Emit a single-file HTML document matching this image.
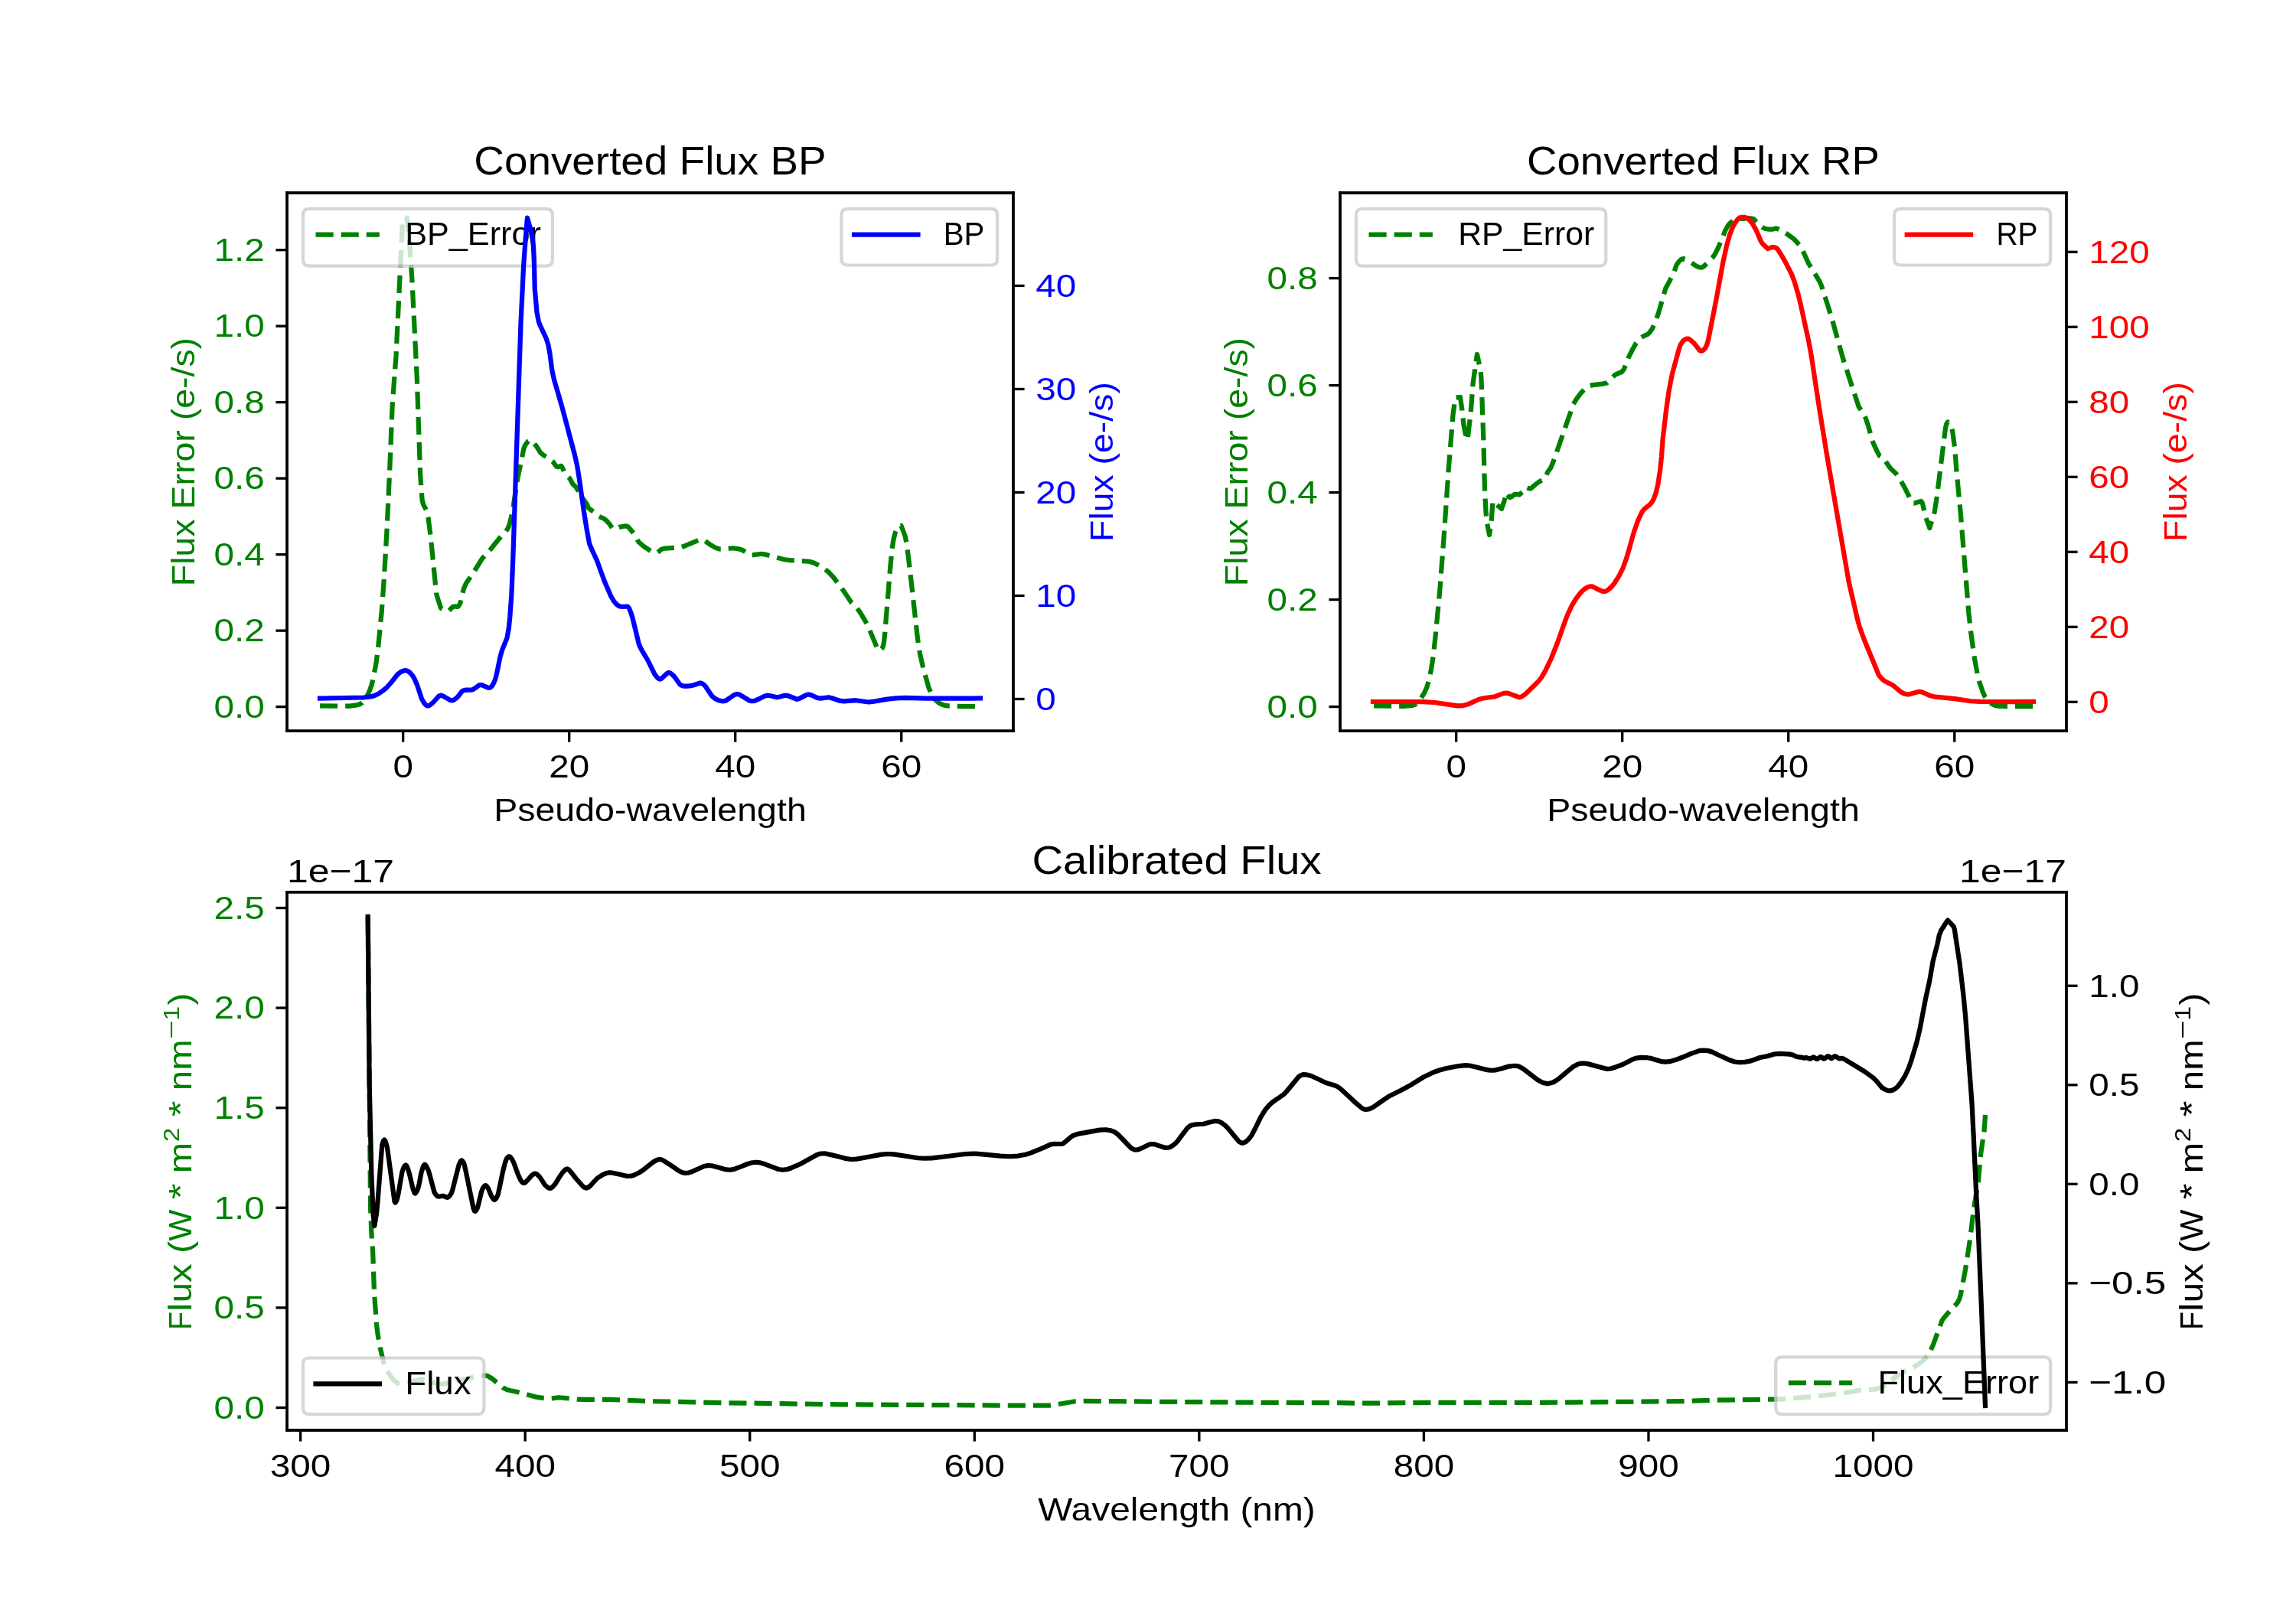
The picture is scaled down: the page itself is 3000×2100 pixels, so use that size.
<!DOCTYPE html>
<html><head><meta charset="utf-8"><style>html,body{margin:0;padding:0;background:#fff;width:3000px;height:2100px;overflow:hidden}svg{display:block;will-change:transform}</style></head><body>
<svg width="3000" height="2100" viewBox="0 0 720 504" version="1.1">
 <defs>
  <style type="text/css">*{stroke-linejoin: round; stroke-linecap: butt}</style>
 </defs>
 <g id="figure_1">
  <g id="patch_1">
   <path d="M 0 504 
L 720 504 
L 720 0 
L 0 0 
z
" style="fill: #ffffff"/>
  </g>
  <g id="axes_1">
   <g id="patch_2">
    <path d="M 90 229.210435 
L 317.755102 229.210435 
L 317.755102 60.48 
L 90 60.48 
z
" style="fill: #ffffff"/>
   </g>
   <g id="matplotlib.axis_1">
    <g id="xtick_1">
     <g id="line2d_1">
      <defs>
       <path id="m1504cfccaf" d="M 0 0 
L 0 3.5 
" style="stroke: #000000; stroke-width: 0.8"/>
      </defs>
      <g>
       <use href="#m1504cfccaf" x="126.396541" y="229.210435" style="stroke: #000000; stroke-width: 0.8"/>
      </g>
     </g>
     <g id="text_1">
      <text textLength="6.362" lengthAdjust="spacingAndGlyphs" style="font-size: 10.300px; font-family: 'Liberation Sans', sans-serif; text-anchor: middle" x="126.396541" y="243.808872" transform="rotate(-0 126.396541 243.808872)">0</text>
     </g>
    </g>
    <g id="xtick_2">
     <g id="line2d_2">
      <g>
       <use href="#m1504cfccaf" x="178.484615" y="229.210435" style="stroke: #000000; stroke-width: 0.8"/>
      </g>
     </g>
     <g id="text_2">
      <text textLength="12.725" lengthAdjust="spacingAndGlyphs" style="font-size: 10.300px; font-family: 'Liberation Sans', sans-serif; text-anchor: middle" x="178.484615" y="243.808872" transform="rotate(-0 178.484615 243.808872)">20</text>
     </g>
    </g>
    <g id="xtick_3">
     <g id="line2d_3">
      <g>
       <use href="#m1504cfccaf" x="230.572689" y="229.210435" style="stroke: #000000; stroke-width: 0.8"/>
      </g>
     </g>
     <g id="text_3">
      <text textLength="12.725" lengthAdjust="spacingAndGlyphs" style="font-size: 10.300px; font-family: 'Liberation Sans', sans-serif; text-anchor: middle" x="230.572689" y="243.808872" transform="rotate(-0 230.572689 243.808872)">40</text>
     </g>
    </g>
    <g id="xtick_4">
     <g id="line2d_4">
      <g>
       <use href="#m1504cfccaf" x="282.660762" y="229.210435" style="stroke: #000000; stroke-width: 0.8"/>
      </g>
     </g>
     <g id="text_4">
      <text textLength="12.725" lengthAdjust="spacingAndGlyphs" style="font-size: 10.300px; font-family: 'Liberation Sans', sans-serif; text-anchor: middle" x="282.660762" y="243.808872" transform="rotate(-0 282.660762 243.808872)">60</text>
     </g>
    </g>
    <g id="text_5">
     <text textLength="98.057" lengthAdjust="spacingAndGlyphs" style="font-size: 10.300px; font-family: 'Liberation Sans', sans-serif; text-anchor: middle" x="203.877551" y="257.486997" transform="rotate(-0 203.877551 257.486997)">Pseudo-wavelength</text>
    </g>
   </g>
   <g id="matplotlib.axis_2">
    <g id="ytick_1">
     <g id="line2d_5">
      <defs>
       <path id="m5d545ce8f8" d="M 0 0 
L -3.5 0 
" style="stroke: #000000; stroke-width: 0.8"/>
      </defs>
      <g>
       <use href="#m5d545ce8f8" x="90" y="221.665141" style="stroke: #000000; stroke-width: 0.8"/>
      </g>
     </g>
     <g id="text_6">
      <text textLength="15.903" lengthAdjust="spacingAndGlyphs" style="font-size: 10.300px; font-family: 'Liberation Sans', sans-serif; text-anchor: end; fill: #008000" x="83" y="225.1044" transform="rotate(-0 83 225.1044)">0.0</text>
     </g>
    </g>
    <g id="ytick_2">
     <g id="line2d_6">
      <g>
       <use href="#m5d545ce8f8" x="90" y="197.78763" style="stroke: #000000; stroke-width: 0.8"/>
      </g>
     </g>
     <g id="text_7">
      <text textLength="15.903" lengthAdjust="spacingAndGlyphs" style="font-size: 10.300px; font-family: 'Liberation Sans', sans-serif; text-anchor: end; fill: #008000" x="83" y="201.2268" transform="rotate(-0 83 201.2268)">0.2</text>
     </g>
    </g>
    <g id="ytick_3">
     <g id="line2d_7">
      <g>
       <use href="#m5d545ce8f8" x="90" y="173.910118" style="stroke: #000000; stroke-width: 0.8"/>
      </g>
     </g>
     <g id="text_8">
      <text textLength="15.903" lengthAdjust="spacingAndGlyphs" style="font-size: 10.300px; font-family: 'Liberation Sans', sans-serif; text-anchor: end; fill: #008000" x="83" y="177.3493" transform="rotate(-0 83 177.3493)">0.4</text>
     </g>
    </g>
    <g id="ytick_4">
     <g id="line2d_8">
      <g>
       <use href="#m5d545ce8f8" x="90" y="150.032607" style="stroke: #000000; stroke-width: 0.8"/>
      </g>
     </g>
     <g id="text_9">
      <text textLength="15.903" lengthAdjust="spacingAndGlyphs" style="font-size: 10.300px; font-family: 'Liberation Sans', sans-serif; text-anchor: end; fill: #008000" x="83" y="153.4718" transform="rotate(-0 83 153.4718)">0.6</text>
     </g>
    </g>
    <g id="ytick_5">
     <g id="line2d_9">
      <g>
       <use href="#m5d545ce8f8" x="90" y="126.155095" style="stroke: #000000; stroke-width: 0.8"/>
      </g>
     </g>
     <g id="text_10">
      <text textLength="15.903" lengthAdjust="spacingAndGlyphs" style="font-size: 10.300px; font-family: 'Liberation Sans', sans-serif; text-anchor: end; fill: #008000" x="83" y="129.5943" transform="rotate(-0 83 129.5943)">0.8</text>
     </g>
    </g>
    <g id="ytick_6">
     <g id="line2d_10">
      <g>
       <use href="#m5d545ce8f8" x="90" y="102.277584" style="stroke: #000000; stroke-width: 0.8"/>
      </g>
     </g>
     <g id="text_11">
      <text textLength="15.903" lengthAdjust="spacingAndGlyphs" style="font-size: 10.300px; font-family: 'Liberation Sans', sans-serif; text-anchor: end; fill: #008000" x="83" y="105.7168" transform="rotate(-0 83 105.7168)">1.0</text>
     </g>
    </g>
    <g id="ytick_7">
     <g id="line2d_11">
      <g>
       <use href="#m5d545ce8f8" x="90" y="78.400072" style="stroke: #000000; stroke-width: 0.8"/>
      </g>
     </g>
     <g id="text_12">
      <text textLength="15.903" lengthAdjust="spacingAndGlyphs" style="font-size: 10.300px; font-family: 'Liberation Sans', sans-serif; text-anchor: end; fill: #008000" x="83" y="81.8393" transform="rotate(-0 83 81.8393)">1.2</text>
     </g>
    </g>
    <g id="text_13">
     <text textLength="78.057" lengthAdjust="spacingAndGlyphs" style="font-size: 10.300px; font-family: 'Liberation Sans', sans-serif; text-anchor: middle; fill: #008000" x="61.017187" y="144.845217" transform="rotate(-90 61.017187 144.845217)">Flux Error (e-/s)</text>
    </g>
   </g>
   <g id="line2d_12">
    <path d="M 100.32 221.4 
L 109.667248 221.415631 
L 111.953451 221.118138 
L 112.70401 220.903821 
L 113.4 220.5 
L 114.294738 219.574164 
L 115.095919 218.323424 
L 115.8 216.9 
L 116.523684 214.892465 
L 117.087333 212.600325 
L 117.961875 207.869674 
L 118.591102 203.027161 
L 119.693373 191.722705 
L 120.452047 181.236938 
L 121.340134 166.093824 
L 122.261646 146.142437 
L 123.024 127.368 
L 123.610684 119.410787 
L 124.2 111.6 
L 124.69281 101.453178 
L 125.47003 85.300545 
L 126.122322 71.937554 
L 126.144 71.1 
L 126.9 71.4 
L 127.082939 71.16773 
L 127.339494 70.158428 
L 127.656 68.304 
L 128.471288 77.076267 
L 129.232592 87.993416 
L 130.738219 118.200274 
L 131.80436 148.978891 
L 132.379062 156.758363 
L 132.770995 158.274205 
L 133.8 160.2 
L 134.287883 162.39206 
L 134.824412 166.547414 
L 135.645321 174.094436 
L 136.8 186 
L 137.232675 187.648043 
L 138.3 190.8 
L 140.068549 191.686933 
L 140.4 191.7 
L 140.718061 191.57114 
L 141.315355 190.997504 
L 141.899 190.381641 
L 142.450767 190.160837 
L 143.468598 190.30055 
L 143.7 190.2 
L 144.126606 189.594849 
L 144.474808 188.582637 
L 145.4072 184.672044 
L 146.159773 182.923848 
L 147.360394 181.188366 
L 148.681781 179.226483 
L 151.2 175.2 
L 152.549149 173.664618 
L 153.9 172.2 
L 157.435215 167.801534 
L 158.660361 166.672748 
L 159.34439 165.539771 
L 159.869551 164.039087 
L 160.5 161.4 
L 161.040527 158.418456 
L 162.263233 150.381252 
L 164.256 140.664 
L 164.745903 139.526421 
L 165.666449 138.285406 
L 166.128 138.048 
L 166.419965 138.113047 
L 167.065934 138.595948 
L 168.265248 139.986191 
L 169.464 141.936 
L 170.18542 142.546988 
L 173.448 144.864 
L 174.074606 145.759326 
L 174.472699 146.285468 
L 174.894906 146.433848 
L 175.944 146.112 
L 176.189938 146.333907 
L 176.59348 147.193024 
L 177.216 148.608 
L 177.954629 149.355099 
L 178.68 150.072 
L 179.214935 151.059523 
L 179.712 151.968 
L 180.266108 152.419032 
L 180.552 152.688 
L 181.019134 153.433752 
L 182.319142 155.739537 
L 184.018918 158.087295 
L 184.536 159.288 
L 185.150783 159.806252 
L 186.854218 160.965436 
L 187.872 162 
L 188.601462 162.320217 
L 189.336 162.624 
L 190.166706 163.272001 
L 190.882472 164.043349 
L 192.144971 165.770227 
L 192.48 165.96 
L 193.004557 165.893763 
L 194.136 165.336 
L 195.928584 164.992969 
L 196.656 165.024 
L 196.989047 165.226803 
L 198.861423 167.44577 
L 199.367755 168.225633 
L 200.098795 169.731266 
L 200.4 170.1 
L 201.997118 171.470369 
L 204.061323 172.810478 
L 205.020891 173.244082 
L 205.8 173.4 
L 206.142403 173.326346 
L 206.678599 172.904964 
L 207.233818 172.390281 
L 207.6 172.2 
L 208.381932 172.016492 
L 210.358923 171.887913 
L 212.550205 171.770078 
L 213.6 171.6 
L 214.742471 171.237368 
L 219.348353 169.281496 
L 220.2 169.2 
L 220.872218 169.462365 
L 222.517756 170.713057 
L 224.313991 171.746336 
L 225.6 172.2 
L 226.98842 172.220243 
L 229.8 171.9 
L 231.365523 172.089639 
L 232.8 172.5 
L 233.607905 172.994372 
L 234.76277 173.835472 
L 235.2 174 
L 236.331939 174.013053 
L 238.8 173.7 
L 240.003629 173.910212 
L 246 175.5 
L 247.779575 175.687833 
L 253.8 176.1 
L 255.350661 176.598521 
L 256.8 177.3 
L 258.305721 178.206462 
L 259.8 179.4 
L 261.219914 180.911348 
L 263.351467 183.627432 
L 265.07283 186.090476 
L 267 189 
L 267.902503 189.894276 
L 268.8 190.8 
L 269.810874 192.217261 
L 271.356382 194.77833 
L 272.462783 197.007903 
L 275.4 204 
L 276.423802 203.59023 
L 276.6 203.4 
L 276.953506 202.599094 
L 277.202185 201.421428 
L 277.515335 198.347182 
L 279.178329 178.027992 
L 279.716516 172.295344 
L 280.2 169.2 
L 280.716855 167.083052 
L 281.139896 166.002218 
L 281.579391 165.415883 
L 282.18681 165.078965 
L 282.6 164.88 
L 283.8 168 
L 284.25618 170.224689 
L 285 175.8 
L 285.898374 183.684512 
L 287.758927 200.33629 
L 288.526908 205.222039 
L 289.52437 209.544978 
L 291.255638 215.735497 
L 292.137317 217.745985 
L 293.042582 219.195873 
L 293.746365 219.92772 
L 294.495291 220.485984 
L 295.337292 220.923374 
L 296.405283 221.264018 
L 297.737391 221.429584 
L 302.322499 221.567119 
L 307.44 221.52 
L 307.44 221.52 
" clip-path="url(#ped18cb847b)" style="fill: none; stroke-dasharray: 5.55,2.4; stroke-dashoffset: 0; stroke: #008000; stroke-width: 1.5"/>
   </g>
   <g id="patch_3">
    <path d="M 90 229.210435 
L 90 60.48 
" style="fill: none; stroke: #000000; stroke-width: 0.8; stroke-linejoin: miter; stroke-linecap: square"/>
   </g>
   <g id="patch_4">
    <path d="M 317.755102 229.210435 
L 317.755102 60.48 
" style="fill: none; stroke: #000000; stroke-width: 0.8; stroke-linejoin: miter; stroke-linecap: square"/>
   </g>
   <g id="patch_5">
    <path d="M 90 229.210435 
L 317.755102 229.210435 
" style="fill: none; stroke: #000000; stroke-width: 0.8; stroke-linejoin: miter; stroke-linecap: square"/>
   </g>
   <g id="patch_6">
    <path d="M 90 60.48 
L 317.755102 60.48 
" style="fill: none; stroke: #000000; stroke-width: 0.8; stroke-linejoin: miter; stroke-linecap: square"/>
   </g>
   <g id="text_14">
    <text textLength="110.490" lengthAdjust="spacingAndGlyphs" style="font-size: 12.360px; font-family: 'Liberation Sans', sans-serif; text-anchor: middle" x="203.877551" y="54.7200" transform="rotate(-0 203.877551 54.7200)">Converted Flux BP</text>
   </g>
   <g id="legend_1">
    <g id="patch_7">
     <path d="M 97 83.43625 
L 171.260938 83.43625 
Q 173.260938 83.43625 173.260938 81.43625 
L 173.260938 67.48 
Q 173.260938 65.48 171.260938 65.48 
L 97 65.48 
Q 95 65.48 95 67.48 
L 95 81.43625 
Q 95 83.43625 97 83.43625 
z
" style="fill: #ffffff; opacity: 0.8; stroke: #cccccc; stroke-linejoin: miter"/>
    </g>
    <g id="line2d_13">
     <path d="M 99 73.578438 
L 109 73.578438 
L 119 73.578438 
" style="fill: none; stroke-dasharray: 5.55,2.4; stroke-dashoffset: 0; stroke: #008000; stroke-width: 1.5"/>
    </g>
    <g id="text_15">
     <text textLength="42.661" lengthAdjust="spacingAndGlyphs" style="font-size: 10.300px; font-family: 'Liberation Sans', sans-serif; text-anchor: start" x="127" y="76.8384" transform="rotate(-0 127 76.8384)">BP_Error</text>
    </g>
   </g>
  </g>
  <g id="axes_2">
   <g id="patch_8">
    <path d="M 420.244898 229.210435 
L 648 229.210435 
L 648 60.48 
L 420.244898 60.48 
z
" style="fill: #ffffff"/>
   </g>
   <g id="matplotlib.axis_3">
    <g id="xtick_5">
     <g id="line2d_14">
      <g>
       <use href="#m1504cfccaf" x="456.641439" y="229.210435" style="stroke: #000000; stroke-width: 0.8"/>
      </g>
     </g>
     <g id="text_16">
      <text textLength="6.362" lengthAdjust="spacingAndGlyphs" style="font-size: 10.300px; font-family: 'Liberation Sans', sans-serif; text-anchor: middle" x="456.641439" y="243.808872" transform="rotate(-0 456.641439 243.808872)">0</text>
     </g>
    </g>
    <g id="xtick_6">
     <g id="line2d_15">
      <g>
       <use href="#m1504cfccaf" x="508.729513" y="229.210435" style="stroke: #000000; stroke-width: 0.8"/>
      </g>
     </g>
     <g id="text_17">
      <text textLength="12.725" lengthAdjust="spacingAndGlyphs" style="font-size: 10.300px; font-family: 'Liberation Sans', sans-serif; text-anchor: middle" x="508.729513" y="243.808872" transform="rotate(-0 508.729513 243.808872)">20</text>
     </g>
    </g>
    <g id="xtick_7">
     <g id="line2d_16">
      <g>
       <use href="#m1504cfccaf" x="560.817587" y="229.210435" style="stroke: #000000; stroke-width: 0.8"/>
      </g>
     </g>
     <g id="text_18">
      <text textLength="12.725" lengthAdjust="spacingAndGlyphs" style="font-size: 10.300px; font-family: 'Liberation Sans', sans-serif; text-anchor: middle" x="560.817587" y="243.808872" transform="rotate(-0 560.817587 243.808872)">40</text>
     </g>
    </g>
    <g id="xtick_8">
     <g id="line2d_17">
      <g>
       <use href="#m1504cfccaf" x="612.90566" y="229.210435" style="stroke: #000000; stroke-width: 0.8"/>
      </g>
     </g>
     <g id="text_19">
      <text textLength="12.725" lengthAdjust="spacingAndGlyphs" style="font-size: 10.300px; font-family: 'Liberation Sans', sans-serif; text-anchor: middle" x="612.90566" y="243.808872" transform="rotate(-0 612.90566 243.808872)">60</text>
     </g>
    </g>
    <g id="text_20">
     <text textLength="98.057" lengthAdjust="spacingAndGlyphs" style="font-size: 10.300px; font-family: 'Liberation Sans', sans-serif; text-anchor: middle" x="534.122449" y="257.486997" transform="rotate(-0 534.122449 257.486997)">Pseudo-wavelength</text>
    </g>
   </g>
   <g id="matplotlib.axis_4">
    <g id="ytick_8">
     <g id="line2d_18">
      <g>
       <use href="#m5d545ce8f8" x="420.244898" y="221.650827" style="stroke: #000000; stroke-width: 0.8"/>
      </g>
     </g>
     <g id="text_21">
      <text textLength="15.903" lengthAdjust="spacingAndGlyphs" style="font-size: 10.300px; font-family: 'Liberation Sans', sans-serif; text-anchor: end; fill: #008000" x="413.244898" y="225.0900" transform="rotate(-0 413.244898 225.0900)">0.0</text>
     </g>
    </g>
    <g id="ytick_9">
     <g id="line2d_19">
      <g>
       <use href="#m5d545ce8f8" x="420.244898" y="188.052573" style="stroke: #000000; stroke-width: 0.8"/>
      </g>
     </g>
     <g id="text_22">
      <text textLength="15.903" lengthAdjust="spacingAndGlyphs" style="font-size: 10.300px; font-family: 'Liberation Sans', sans-serif; text-anchor: end; fill: #008000" x="413.244898" y="191.4918" transform="rotate(-0 413.244898 191.4918)">0.2</text>
     </g>
    </g>
    <g id="ytick_10">
     <g id="line2d_20">
      <g>
       <use href="#m5d545ce8f8" x="420.244898" y="154.454318" style="stroke: #000000; stroke-width: 0.8"/>
      </g>
     </g>
     <g id="text_23">
      <text textLength="15.903" lengthAdjust="spacingAndGlyphs" style="font-size: 10.300px; font-family: 'Liberation Sans', sans-serif; text-anchor: end; fill: #008000" x="413.244898" y="157.8935" transform="rotate(-0 413.244898 157.8935)">0.4</text>
     </g>
    </g>
    <g id="ytick_11">
     <g id="line2d_21">
      <g>
       <use href="#m5d545ce8f8" x="420.244898" y="120.856064" style="stroke: #000000; stroke-width: 0.8"/>
      </g>
     </g>
     <g id="text_24">
      <text textLength="15.903" lengthAdjust="spacingAndGlyphs" style="font-size: 10.300px; font-family: 'Liberation Sans', sans-serif; text-anchor: end; fill: #008000" x="413.244898" y="124.2953" transform="rotate(-0 413.244898 124.2953)">0.6</text>
     </g>
    </g>
    <g id="ytick_12">
     <g id="line2d_22">
      <g>
       <use href="#m5d545ce8f8" x="420.244898" y="87.257809" style="stroke: #000000; stroke-width: 0.8"/>
      </g>
     </g>
     <g id="text_25">
      <text textLength="15.903" lengthAdjust="spacingAndGlyphs" style="font-size: 10.300px; font-family: 'Liberation Sans', sans-serif; text-anchor: end; fill: #008000" x="413.244898" y="90.6970" transform="rotate(-0 413.244898 90.6970)">0.8</text>
     </g>
    </g>
    <g id="text_26">
     <text textLength="78.057" lengthAdjust="spacingAndGlyphs" style="font-size: 10.300px; font-family: 'Liberation Sans', sans-serif; text-anchor: middle; fill: #008000" x="391.262085" y="144.845217" transform="rotate(-90 391.262085 144.845217)">Flux Error (e-/s)</text>
    </g>
   </g>
   <g id="line2d_23">
    <path d="M 430.8 221.4 
L 440.252865 221.498132 
L 442.928552 221.242286 
L 443.636043 221.013764 
L 444 220.8 
L 444.547371 220.344467 
L 445.617935 219.035275 
L 446.583669 217.428061 
L 447.407919 215.641834 
L 448.040234 213.593716 
L 448.8 210 
L 449.486854 205.554171 
L 450.326755 197.719318 
L 451.554727 184.621973 
L 452.837123 167.763468 
L 454.202667 147.910046 
L 455.641115 130.071121 
L 456.36 124.68 
L 457.92 124.56 
L 458.493509 128.549864 
L 459.001422 133.277643 
L 459.475682 135.769933 
L 460.2 138 
L 461.206401 129.393843 
L 461.916842 120.159164 
L 463.071282 111.988504 
L 463.2 111.12 
L 464.28 116.016 
L 464.50527 118.616278 
L 465.158054 136.286007 
L 465.6 153.6 
L 465.972103 160.781664 
L 466.369624 164.244918 
L 467.04 167.76 
L 467.674917 163.358151 
L 468.12 157.2 
L 470.88 159.6 
L 471.830387 156.769879 
L 472.272 154.56 
L 473.296414 155.905036 
L 473.52 156 
L 473.976619 155.806367 
L 474.96 155.04 
L 475.672587 155.040484 
L 476.4 155.16 
L 477.912 153.936 
L 478.153778 153.33327 
L 478.295492 152.98249 
L 478.416 152.88 
L 478.858472 152.932494 
L 479.683698 153.26102 
L 480.138281 153.177848 
L 480.693398 152.653111 
L 481.433125 151.998951 
L 482.946396 150.908843 
L 483.571585 150.681967 
L 484.104 150.576 
L 484.466432 150.016705 
L 485.293049 148.134575 
L 486.288 146.736 
L 487.149126 144.653995 
L 493.397202 126.757172 
L 494.364412 125.112391 
L 495.745791 123.272976 
L 497.264244 121.724249 
L 498.495684 120.970973 
L 499.495338 120.76065 
L 502.543918 120.40219 
L 503.540665 120.19462 
L 504 120 
L 504.846012 119.293178 
L 506.4 117.6 
L 507.20479 117.207605 
L 508.433573 116.703459 
L 508.8 116.4 
L 509.272539 115.744456 
L 510.044721 113.938967 
L 510.777151 111.921062 
L 512.118453 109.260348 
L 513.108472 107.574009 
L 514.2 106.2 
L 515.193321 105.539986 
L 516.748385 104.787208 
L 517.2 104.4 
L 518.124723 103.068763 
L 518.887697 101.421462 
L 520.038847 98.304213 
L 522.300423 90.497894 
L 523.54726 88.166097 
L 524.88 85.56 
L 525.76404 83.036247 
L 526.438426 82.092268 
L 527.210211 81.350718 
L 527.893675 81.138591 
L 528.5185 81.304853 
L 529.812253 81.999042 
L 531.897278 83.425887 
L 532.972089 83.857179 
L 533.664 83.88 
L 534.394104 83.456785 
L 537.143132 80.669545 
L 537.775231 79.757859 
L 538.82888 77.643208 
L 540.146317 74.547526 
L 541.076986 72.173897 
L 541.976675 70.598617 
L 542.64 69.864 
L 543.549295 69.253234 
L 544.536 68.832 
L 545.325045 68.672555 
L 548.682904 68.455791 
L 549.744 68.616 
L 550.150908 68.898109 
L 551.483888 70.318047 
L 552.687929 71.313148 
L 553.494871 71.693662 
L 554.74492 71.930824 
L 555.748743 71.921118 
L 556.848 71.64 
L 557.465661 71.785351 
L 559.031578 72.533951 
L 560.424 73.416 
L 562.5273 74.948742 
L 563.675078 76.135257 
L 564.696927 77.523632 
L 565.317659 78.604682 
L 567.06725 82.456765 
L 570.545057 88.160826 
L 571.235551 89.723746 
L 573.361772 96.397958 
L 574.613782 100.445707 
L 577.831905 112.088037 
L 581.035565 121.973457 
L 582.284247 125.745135 
L 582.864 127.536 
L 584.43382 129.797535 
L 585.021351 131.108066 
L 585.864 133.536 
L 586.984079 137.656763 
L 587.358017 138.798418 
L 588.548699 141.40182 
L 589.368 142.92 
L 590.712 143.76 
L 591.15195 144.381168 
L 592.097028 145.913471 
L 593.006924 147.054497 
L 594.6 148.56 
L 595.836693 150.377309 
L 597.328166 153.016429 
L 599.528985 157.39533 
L 600 157.8 
L 600.348086 157.81363 
L 602.4 157.2 
L 602.728086 157.570476 
L 602.957661 158.179169 
L 603.833278 162.102553 
L 605.1 165.6 
L 606.6 160.8 
L 607.373727 155.935966 
L 610.085151 134.199641 
L 610.370455 133.019805 
L 610.8 132.36 
L 611.952 134.04 
L 612.337561 135.549243 
L 612.980075 140.485668 
L 613.285226 144.159464 
L 613.588265 148.103639 
L 614.799289 160.731316 
L 617.355479 192.086638 
L 618 198 
L 619.170715 206.406697 
L 620.171656 211.781499 
L 620.759821 214.05118 
L 621.787313 217.040133 
L 622.425009 218.411019 
L 623.144835 219.443778 
L 623.90608 220.235806 
L 624.75081 220.862673 
L 625.642526 221.26644 
L 626.552741 221.429323 
L 629.471445 221.574939 
L 634.322525 221.555161 
L 637.68 221.52 
L 637.68 221.52 
" clip-path="url(#p2e5e7b1a41)" style="fill: none; stroke-dasharray: 5.55,2.4; stroke-dashoffset: 0; stroke: #008000; stroke-width: 1.5"/>
   </g>
   <g id="patch_9">
    <path d="M 420.244898 229.210435 
L 420.244898 60.48 
" style="fill: none; stroke: #000000; stroke-width: 0.8; stroke-linejoin: miter; stroke-linecap: square"/>
   </g>
   <g id="patch_10">
    <path d="M 648 229.210435 
L 648 60.48 
" style="fill: none; stroke: #000000; stroke-width: 0.8; stroke-linejoin: miter; stroke-linecap: square"/>
   </g>
   <g id="patch_11">
    <path d="M 420.244898 229.210435 
L 648 229.210435 
" style="fill: none; stroke: #000000; stroke-width: 0.8; stroke-linejoin: miter; stroke-linecap: square"/>
   </g>
   <g id="patch_12">
    <path d="M 420.244898 60.48 
L 648 60.48 
" style="fill: none; stroke: #000000; stroke-width: 0.8; stroke-linejoin: miter; stroke-linecap: square"/>
   </g>
   <g id="text_27">
    <text textLength="110.596" lengthAdjust="spacingAndGlyphs" style="font-size: 12.360px; font-family: 'Liberation Sans', sans-serif; text-anchor: middle" x="534.122449" y="54.7200" transform="rotate(-0 534.122449 54.7200)">Converted Flux RP</text>
   </g>
   <g id="legend_2">
    <g id="patch_13">
     <path d="M 427.244898 83.43625 
L 501.593335 83.43625 
Q 503.593335 83.43625 503.593335 81.43625 
L 503.593335 67.48 
Q 503.593335 65.48 501.593335 65.48 
L 427.244898 65.48 
Q 425.244898 65.48 425.244898 67.48 
L 425.244898 81.43625 
Q 425.244898 83.43625 427.244898 83.43625 
z
" style="fill: #ffffff; opacity: 0.8; stroke: #cccccc; stroke-linejoin: miter"/>
    </g>
    <g id="line2d_24">
     <path d="M 429.244898 73.578438 
L 439.244898 73.578438 
L 449.244898 73.578438 
" style="fill: none; stroke-dasharray: 5.55,2.4; stroke-dashoffset: 0; stroke: #008000; stroke-width: 1.5"/>
    </g>
    <g id="text_28">
     <text textLength="42.749" lengthAdjust="spacingAndGlyphs" style="font-size: 10.300px; font-family: 'Liberation Sans', sans-serif; text-anchor: start" x="457.244898" y="76.8384" transform="rotate(-0 457.244898 76.8384)">RP_Error</text>
    </g>
   </g>
  </g>
  <g id="axes_3">
   <g id="patch_14">
    <path d="M 90 448.56 
L 648 448.56 
L 648 279.829565 
L 90 279.829565 
z
" style="fill: #ffffff"/>
   </g>
   <g id="matplotlib.axis_5">
    <g id="xtick_9">
     <g id="line2d_25">
      <g>
       <use href="#m1504cfccaf" x="94.227273" y="448.56" style="stroke: #000000; stroke-width: 0.8"/>
      </g>
     </g>
     <g id="text_29">
      <text textLength="19.087" lengthAdjust="spacingAndGlyphs" style="font-size: 10.300px; font-family: 'Liberation Sans', sans-serif; text-anchor: middle" x="94.227273" y="463.158437" transform="rotate(-0 94.227273 463.158437)">300</text>
     </g>
    </g>
    <g id="xtick_10">
     <g id="line2d_26">
      <g>
       <use href="#m1504cfccaf" x="164.681818" y="448.56" style="stroke: #000000; stroke-width: 0.8"/>
      </g>
     </g>
     <g id="text_30">
      <text textLength="19.087" lengthAdjust="spacingAndGlyphs" style="font-size: 10.300px; font-family: 'Liberation Sans', sans-serif; text-anchor: middle" x="164.681818" y="463.158437" transform="rotate(-0 164.681818 463.158437)">400</text>
     </g>
    </g>
    <g id="xtick_11">
     <g id="line2d_27">
      <g>
       <use href="#m1504cfccaf" x="235.136364" y="448.56" style="stroke: #000000; stroke-width: 0.8"/>
      </g>
     </g>
     <g id="text_31">
      <text textLength="19.087" lengthAdjust="spacingAndGlyphs" style="font-size: 10.300px; font-family: 'Liberation Sans', sans-serif; text-anchor: middle" x="235.136364" y="463.158437" transform="rotate(-0 235.136364 463.158437)">500</text>
     </g>
    </g>
    <g id="xtick_12">
     <g id="line2d_28">
      <g>
       <use href="#m1504cfccaf" x="305.590909" y="448.56" style="stroke: #000000; stroke-width: 0.8"/>
      </g>
     </g>
     <g id="text_32">
      <text textLength="19.087" lengthAdjust="spacingAndGlyphs" style="font-size: 10.300px; font-family: 'Liberation Sans', sans-serif; text-anchor: middle" x="305.590909" y="463.158437" transform="rotate(-0 305.590909 463.158437)">600</text>
     </g>
    </g>
    <g id="xtick_13">
     <g id="line2d_29">
      <g>
       <use href="#m1504cfccaf" x="376.045455" y="448.56" style="stroke: #000000; stroke-width: 0.8"/>
      </g>
     </g>
     <g id="text_33">
      <text textLength="19.087" lengthAdjust="spacingAndGlyphs" style="font-size: 10.300px; font-family: 'Liberation Sans', sans-serif; text-anchor: middle" x="376.045455" y="463.158437" transform="rotate(-0 376.045455 463.158437)">700</text>
     </g>
    </g>
    <g id="xtick_14">
     <g id="line2d_30">
      <g>
       <use href="#m1504cfccaf" x="446.5" y="448.56" style="stroke: #000000; stroke-width: 0.8"/>
      </g>
     </g>
     <g id="text_34">
      <text textLength="19.087" lengthAdjust="spacingAndGlyphs" style="font-size: 10.300px; font-family: 'Liberation Sans', sans-serif; text-anchor: middle" x="446.5" y="463.158437" transform="rotate(-0 446.5 463.158437)">800</text>
     </g>
    </g>
    <g id="xtick_15">
     <g id="line2d_31">
      <g>
       <use href="#m1504cfccaf" x="516.954545" y="448.56" style="stroke: #000000; stroke-width: 0.8"/>
      </g>
     </g>
     <g id="text_35">
      <text textLength="19.087" lengthAdjust="spacingAndGlyphs" style="font-size: 10.300px; font-family: 'Liberation Sans', sans-serif; text-anchor: middle" x="516.954545" y="463.158437" transform="rotate(-0 516.954545 463.158437)">900</text>
     </g>
    </g>
    <g id="xtick_16">
     <g id="line2d_32">
      <g>
       <use href="#m1504cfccaf" x="587.409091" y="448.56" style="stroke: #000000; stroke-width: 0.8"/>
      </g>
     </g>
     <g id="text_36">
      <text textLength="25.449" lengthAdjust="spacingAndGlyphs" style="font-size: 10.300px; font-family: 'Liberation Sans', sans-serif; text-anchor: middle" x="587.409091" y="463.158437" transform="rotate(-0 587.409091 463.158437)">1000</text>
     </g>
    </g>
    <g id="text_37">
     <text textLength="87.021" lengthAdjust="spacingAndGlyphs" style="font-size: 10.300px; font-family: 'Liberation Sans', sans-serif; text-anchor: middle" x="369" y="476.836563" transform="rotate(-0 369 476.836563)">Wavelength (nm)</text>
    </g>
   </g>
   <g id="matplotlib.axis_6">
    <g id="ytick_13">
     <g id="line2d_33">
      <g>
       <use href="#m5d545ce8f8" x="90" y="441.482549" style="stroke: #000000; stroke-width: 0.8"/>
      </g>
     </g>
     <g id="text_38">
      <text textLength="15.903" lengthAdjust="spacingAndGlyphs" style="font-size: 10.300px; font-family: 'Liberation Sans', sans-serif; text-anchor: end; fill: #008000" x="83" y="444.9218" transform="rotate(-0 83 444.9218)">0.0</text>
     </g>
    </g>
    <g id="ytick_14">
     <g id="line2d_34">
      <g>
       <use href="#m5d545ce8f8" x="90" y="410.138658" style="stroke: #000000; stroke-width: 0.8"/>
      </g>
     </g>
     <g id="text_39">
      <text textLength="15.903" lengthAdjust="spacingAndGlyphs" style="font-size: 10.300px; font-family: 'Liberation Sans', sans-serif; text-anchor: end; fill: #008000" x="83" y="413.5779" transform="rotate(-0 83 413.5779)">0.5</text>
     </g>
    </g>
    <g id="ytick_15">
     <g id="line2d_35">
      <g>
       <use href="#m5d545ce8f8" x="90" y="378.794767" style="stroke: #000000; stroke-width: 0.8"/>
      </g>
     </g>
     <g id="text_40">
      <text textLength="15.903" lengthAdjust="spacingAndGlyphs" style="font-size: 10.300px; font-family: 'Liberation Sans', sans-serif; text-anchor: end; fill: #008000" x="83" y="382.2340" transform="rotate(-0 83 382.2340)">1.0</text>
     </g>
    </g>
    <g id="ytick_16">
     <g id="line2d_36">
      <g>
       <use href="#m5d545ce8f8" x="90" y="347.450876" style="stroke: #000000; stroke-width: 0.8"/>
      </g>
     </g>
     <g id="text_41">
      <text textLength="15.903" lengthAdjust="spacingAndGlyphs" style="font-size: 10.300px; font-family: 'Liberation Sans', sans-serif; text-anchor: end; fill: #008000" x="83" y="350.8901" transform="rotate(-0 83 350.8901)">1.5</text>
     </g>
    </g>
    <g id="ytick_17">
     <g id="line2d_37">
      <g>
       <use href="#m5d545ce8f8" x="90" y="316.106985" style="stroke: #000000; stroke-width: 0.8"/>
      </g>
     </g>
     <g id="text_42">
      <text textLength="15.903" lengthAdjust="spacingAndGlyphs" style="font-size: 10.300px; font-family: 'Liberation Sans', sans-serif; text-anchor: end; fill: #008000" x="83" y="319.5462" transform="rotate(-0 83 319.5462)">2.0</text>
     </g>
    </g>
    <g id="ytick_18">
     <g id="line2d_38">
      <g>
       <use href="#m5d545ce8f8" x="90" y="284.763094" style="stroke: #000000; stroke-width: 0.8"/>
      </g>
     </g>
     <g id="text_43">
      <text textLength="15.903" lengthAdjust="spacingAndGlyphs" style="font-size: 10.300px; font-family: 'Liberation Sans', sans-serif; text-anchor: end; fill: #008000" x="83" y="288.2023" transform="rotate(-0 83 288.2023)">2.5</text>
     </g>
    </g>
    <g id="text_44">
     <!-- Flux (W * m$^2$ * nm$^{-1}$) -->
     <g style="fill: #008000" transform="translate(61.017187 417.094783) rotate(-90)">
      <text>
       <tspan textLength="5.752" lengthAdjust="spacingAndGlyphs" x="0" y="-0.976562" style="font-size: 10.300px; font-family: 'Liberation Sans', sans-serif; fill: #008000">F</tspan>
       <tspan textLength="2.778" lengthAdjust="spacingAndGlyphs" x="5.751953" y="-0.976562" style="font-size: 10.300px; font-family: 'Liberation Sans', sans-serif; fill: #008000">l</tspan>
       <tspan textLength="6.338" lengthAdjust="spacingAndGlyphs" x="8.530273" y="-0.976562" style="font-size: 10.300px; font-family: 'Liberation Sans', sans-serif; fill: #008000">u</tspan>
       <tspan textLength="5.918" lengthAdjust="spacingAndGlyphs" x="14.868164" y="-0.976562" style="font-size: 10.300px; font-family: 'Liberation Sans', sans-serif; fill: #008000">x</tspan>
       <tspan x="20.786133" y="-0.976562" style="font-size: 10.300px; font-family: 'Liberation Sans', sans-serif; fill: #008000"> </tspan>
       <tspan textLength="3.901" lengthAdjust="spacingAndGlyphs" x="23.964844" y="-0.976562" style="font-size: 10.300px; font-family: 'Liberation Sans', sans-serif; fill: #008000">(</tspan>
       <tspan textLength="9.888" lengthAdjust="spacingAndGlyphs" x="27.866211" y="-0.976562" style="font-size: 10.300px; font-family: 'Liberation Sans', sans-serif; fill: #008000">W</tspan>
       <tspan x="37.753906" y="-0.976562" style="font-size: 10.300px; font-family: 'Liberation Sans', sans-serif; fill: #008000"> </tspan>
       <tspan textLength="5.000" lengthAdjust="spacingAndGlyphs" x="40.932617" y="-0.976562" style="font-size: 10.300px; font-family: 'Liberation Sans', sans-serif; fill: #008000">*</tspan>
       <tspan x="45.932617" y="-0.976562" style="font-size: 10.300px; font-family: 'Liberation Sans', sans-serif; fill: #008000"> </tspan>
       <tspan textLength="9.741" lengthAdjust="spacingAndGlyphs" x="49.111328" y="-0.976562" style="font-size: 10.300px; font-family: 'Liberation Sans', sans-serif; fill: #008000">m</tspan>
       <tspan x="63.675293" y="-0.976562" style="font-size: 10.300px; font-family: 'Liberation Sans', sans-serif; fill: #008000"> </tspan>
       <tspan textLength="5.000" lengthAdjust="spacingAndGlyphs" x="66.854004" y="-0.976562" style="font-size: 10.300px; font-family: 'Liberation Sans', sans-serif; fill: #008000">*</tspan>
       <tspan x="71.854004" y="-0.976562" style="font-size: 10.300px; font-family: 'Liberation Sans', sans-serif; fill: #008000"> </tspan>
       <tspan textLength="6.338" lengthAdjust="spacingAndGlyphs" x="75.032715" y="-0.976562" style="font-size: 10.300px; font-family: 'Liberation Sans', sans-serif; fill: #008000">n</tspan>
       <tspan textLength="9.741" lengthAdjust="spacingAndGlyphs" x="81.370605" y="-0.976562" style="font-size: 10.300px; font-family: 'Liberation Sans', sans-serif; fill: #008000">m</tspan>
       <tspan textLength="3.901" lengthAdjust="spacingAndGlyphs" x="101.799805" y="-0.976562" style="font-size: 10.300px; font-family: 'Liberation Sans', sans-serif; fill: #008000">)</tspan>
       <tspan textLength="4.454" lengthAdjust="spacingAndGlyphs" x="58.948242" y="-4.804688" style="font-size: 7.210px; font-family: 'Liberation Sans', sans-serif; fill: #008000">2</tspan>
       <tspan textLength="5.865" lengthAdjust="spacingAndGlyphs" x="91.20752" y="-4.804688" style="font-size: 7.210px; font-family: 'Liberation Sans', sans-serif; fill: #008000">−</tspan>
       <tspan textLength="4.454" lengthAdjust="spacingAndGlyphs" x="97.072754" y="-4.804688" style="font-size: 7.210px; font-family: 'Liberation Sans', sans-serif; fill: #008000">1</tspan>
      </text>
     </g>
    </g>
    <g id="text_45">
     <text textLength="33.618" lengthAdjust="spacingAndGlyphs" style="font-size: 10.300px; font-family: 'Liberation Sans', sans-serif; text-anchor: start" x="90" y="276.829565" transform="rotate(-0 90 276.829565)">1e−17</text>
    </g>
   </g>
   <g id="line2d_39">
    <path d="M 115.368 287.52 
L 116.18519 378.883245 
L 116.46688 386.28346 
L 116.921143 392.759631 
L 117.363513 405.515499 
L 118.060502 415.141312 
L 118.5 418.8 
L 119.243196 422.844533 
L 120.307601 427.286537 
L 120.836294 428.851974 
L 121.668971 430.407951 
L 122.811212 432.069405 
L 123.453105 432.806179 
L 124.121264 433.402499 
L 124.8 433.8 
L 125.361479 433.946908 
L 126.546356 433.887792 
L 130.451328 432.958216 
L 131.86819 432.637345 
L 132.6 432.6 
L 133.465907 432.723487 
L 135.276521 433.340811 
L 137.108005 433.966304 
L 138 434.1 
L 139.643742 433.969768 
L 142.8 433.2 
L 150.612175 431.458067 
L 152.4 431.4 
L 153.067717 431.591496 
L 154.2 432.3 
L 155.478829 433.321358 
L 157.6743 435.163849 
L 158.98653 435.844039 
L 160.149831 436.137181 
L 162 436.5 
L 168.225023 438.156912 
L 170.690524 438.509443 
L 172.728397 438.582561 
L 175.2 438.3 
L 177.001921 438.431116 
L 181.2 438.9 
L 185.699156 438.925125 
L 191.256356 438.934959 
L 205.2 439.5 
L 222.95352 439.905099 
L 263.265202 440.481158 
L 317.684395 440.802181 
L 329.035248 440.781495 
L 330.755702 440.592022 
L 337.2 439.5 
L 339.963331 439.43168 
L 360.159712 439.596241 
L 395.311698 439.877539 
L 421.980555 439.980687 
L 425.76 440.1 
L 433.770916 440.039643 
L 449.083041 439.905923 
L 490.322567 439.853801 
L 528.340189 439.449099 
L 536.318084 439.155252 
L 558.034701 438.830904 
L 568.728 438 
L 577.10508 437.016857 
L 580.303562 436.537105 
L 583.368 436.008 
L 585.954241 435.860407 
L 587.63154 435.739733 
L 588.932003 435.445766 
L 590.404644 434.841787 
L 591.745238 434.026428 
L 594.436854 431.809913 
L 597.294821 430.100655 
L 599.143902 429.159886 
L 600.817186 428.381075 
L 602.373679 427.32755 
L 603.790907 426.051475 
L 604.563586 425.087654 
L 605.458842 423.474597 
L 606.325896 421.486151 
L 609 414.18 
L 609.707083 413.156363 
L 611.8536 410.688884 
L 613.735512 408.745478 
L 614.402822 407.523345 
L 614.814949 406.103289 
L 616.32617 398.17088 
L 617.818692 388.461673 
L 618.576658 382.120399 
L 619.129329 378.07855 
L 620.4 370.44 
L 620.710744 366.630973 
L 621 362.88 
L 621.615256 358.764281 
L 622.2 354.84 
L 622.45963 351.358802 
L 622.56 349.68 
L 622.56 349.68 
" clip-path="url(#pbcfeac04f6)" style="fill: none; stroke-dasharray: 5.55,2.4; stroke-dashoffset: 0; stroke: #008000; stroke-width: 1.5"/>
   </g>
   <g id="patch_15">
    <path d="M 90 448.56 
L 90 279.829565 
" style="fill: none; stroke: #000000; stroke-width: 0.8; stroke-linejoin: miter; stroke-linecap: square"/>
   </g>
   <g id="patch_16">
    <path d="M 648 448.56 
L 648 279.829565 
" style="fill: none; stroke: #000000; stroke-width: 0.8; stroke-linejoin: miter; stroke-linecap: square"/>
   </g>
   <g id="patch_17">
    <path d="M 90 448.56 
L 648 448.56 
" style="fill: none; stroke: #000000; stroke-width: 0.8; stroke-linejoin: miter; stroke-linecap: square"/>
   </g>
   <g id="patch_18">
    <path d="M 90 279.829565 
L 648 279.829565 
" style="fill: none; stroke: #000000; stroke-width: 0.8; stroke-linejoin: miter; stroke-linecap: square"/>
   </g>
   <g id="text_46">
    <text textLength="90.768" lengthAdjust="spacingAndGlyphs" style="font-size: 12.360px; font-family: 'Liberation Sans', sans-serif; text-anchor: middle" x="369" y="274.0696" transform="rotate(-0 369 274.0696)">Calibrated Flux</text>
   </g>
   <g id="legend_3">
    <g id="patch_19">
     <path d="M 558.84375 443.56 
L 641 443.56 
Q 643 443.56 643 441.56 
L 643 427.60375 
Q 643 425.60375 641 425.60375 
L 558.84375 425.60375 
Q 556.84375 425.60375 556.84375 427.60375 
L 556.84375 441.56 
Q 556.84375 443.56 558.84375 443.56 
z
" style="fill: #ffffff; opacity: 0.8; stroke: #cccccc; stroke-linejoin: miter"/>
    </g>
    <g id="line2d_40">
     <path d="M 560.84375 433.702188 
L 570.84375 433.702188 
L 580.84375 433.702188 
" style="fill: none; stroke-dasharray: 5.55,2.4; stroke-dashoffset: 0; stroke: #008000; stroke-width: 1.5"/>
    </g>
    <g id="text_47">
     <text textLength="50.557" lengthAdjust="spacingAndGlyphs" style="font-size: 10.300px; font-family: 'Liberation Sans', sans-serif; text-anchor: start" x="588.84375" y="436.9622" transform="rotate(-0 588.84375 436.9622)">Flux_Error</text>
    </g>
   </g>
  </g>
  <g id="axes_4">
   <g id="matplotlib.axis_7">
    <g id="ytick_19">
     <g id="line2d_41">
      <defs>
       <path id="m33c4ce201d" d="M 0 0 
L 3.5 0 
" style="stroke: #000000; stroke-width: 0.8"/>
      </defs>
      <g>
       <use href="#m33c4ce201d" x="317.755102" y="219.237084" style="stroke: #000000; stroke-width: 0.8"/>
      </g>
     </g>
     <g id="text_48">
      <text textLength="6.362" lengthAdjust="spacingAndGlyphs" style="font-size: 10.300px; font-family: 'Liberation Sans', sans-serif; text-anchor: start; fill: #0000ff" x="324.755102" y="222.6763" transform="rotate(-0 324.755102 222.6763)">0</text>
     </g>
    </g>
    <g id="ytick_20">
     <g id="line2d_42">
      <g>
       <use href="#m33c4ce201d" x="317.755102" y="186.835034" style="stroke: #000000; stroke-width: 0.8"/>
      </g>
     </g>
     <g id="text_49">
      <text textLength="12.725" lengthAdjust="spacingAndGlyphs" style="font-size: 10.300px; font-family: 'Liberation Sans', sans-serif; text-anchor: start; fill: #0000ff" x="324.755102" y="190.2743" transform="rotate(-0 324.755102 190.2743)">10</text>
     </g>
    </g>
    <g id="ytick_21">
     <g id="line2d_43">
      <g>
       <use href="#m33c4ce201d" x="317.755102" y="154.432984" style="stroke: #000000; stroke-width: 0.8"/>
      </g>
     </g>
     <g id="text_50">
      <text textLength="12.725" lengthAdjust="spacingAndGlyphs" style="font-size: 10.300px; font-family: 'Liberation Sans', sans-serif; text-anchor: start; fill: #0000ff" x="324.755102" y="157.8722" transform="rotate(-0 324.755102 157.8722)">20</text>
     </g>
    </g>
    <g id="ytick_22">
     <g id="line2d_44">
      <g>
       <use href="#m33c4ce201d" x="317.755102" y="122.030934" style="stroke: #000000; stroke-width: 0.8"/>
      </g>
     </g>
     <g id="text_51">
      <text textLength="12.725" lengthAdjust="spacingAndGlyphs" style="font-size: 10.300px; font-family: 'Liberation Sans', sans-serif; text-anchor: start; fill: #0000ff" x="324.755102" y="125.4702" transform="rotate(-0 324.755102 125.4702)">30</text>
     </g>
    </g>
    <g id="ytick_23">
     <g id="line2d_45">
      <g>
       <use href="#m33c4ce201d" x="317.755102" y="89.628884" style="stroke: #000000; stroke-width: 0.8"/>
      </g>
     </g>
     <g id="text_52">
      <text textLength="12.725" lengthAdjust="spacingAndGlyphs" style="font-size: 10.300px; font-family: 'Liberation Sans', sans-serif; text-anchor: start; fill: #0000ff" x="324.755102" y="93.0681" transform="rotate(-0 324.755102 93.0681)">40</text>
     </g>
    </g>
    <g id="text_53">
     <text textLength="50.107" lengthAdjust="spacingAndGlyphs" style="font-size: 10.300px; font-family: 'Liberation Sans', sans-serif; text-anchor: middle; fill: #0000ff" x="349.07854" y="144.845217" transform="rotate(-90 349.07854 144.845217)">Flux (e-/s)</text>
    </g>
   </g>
   <g id="line2d_46">
    <path d="M 100.32 219 
L 114 218.76 
L 116.508267 218.443359 
L 117.6 218.1 
L 118.828953 217.481802 
L 120.02154 216.668855 
L 121.2 215.7 
L 122.64245 214.076833 
L 124.746805 211.448335 
L 125.769402 210.682336 
L 126.488745 210.372312 
L 127.173647 210.264678 
L 127.827847 210.414456 
L 128.454946 210.857747 
L 129.3 211.8 
L 129.855438 212.669565 
L 130.8 214.8 
L 131.381576 216.516245 
L 132.259005 219.225794 
L 133.072843 220.593356 
L 133.577581 221.141739 
L 134.1 221.4 
L 134.583377 221.284969 
L 135.337696 220.714726 
L 135.985025 220.135418 
L 137.625565 218.306369 
L 138.207001 218.068343 
L 138.782359 218.21628 
L 139.958604 218.861421 
L 141.211862 219.642319 
L 141.917995 219.675182 
L 142.530714 219.382125 
L 143.4 218.7 
L 143.983441 218.007449 
L 144.842712 216.858789 
L 145.2 216.6 
L 146.134869 216.403751 
L 147.717488 216.400999 
L 148.2 216.3 
L 149.020626 215.803133 
L 150.18029 214.930914 
L 150.6 214.8 
L 151.088152 214.841958 
L 152.157838 215.301762 
L 153.176113 215.715555 
L 153.6 215.7 
L 154.196217 215.273636 
L 154.663101 214.538845 
L 155.1 213.6 
L 155.500752 212.44319 
L 156.182448 209.309058 
L 156.835302 205.989097 
L 157.495654 203.77632 
L 159 200.1 
L 159.546182 197.080791 
L 159.899185 193.550811 
L 160.408688 186.461595 
L 160.85533 175.571634 
L 163.3212 101.240204 
L 164.1792 83.510925 
L 164.859184 74.244309 
L 165.36 68.304 
L 166.393815 71.93736 
L 166.955997 74.831644 
L 167.256 77.1 
L 167.46712 81.266658 
L 167.7 90.6 
L 168.348828 97.88595 
L 168.9 100.8 
L 169.360219 102.040498 
L 171.182712 105.908306 
L 171.9 108 
L 172.431245 110.901348 
L 173.099752 115.992967 
L 173.739253 119.012374 
L 174.928449 123.051147 
L 176.429074 128.292836 
L 180.20269 142.599913 
L 180.96 145.896 
L 181.673217 150.289417 
L 183.110821 160.509501 
L 183.987512 165.96786 
L 184.8 170.4 
L 185.457734 172.038064 
L 187.2 175.8 
L 188.375941 179.071014 
L 189.6 182.4 
L 191.567561 186.958428 
L 192.6 188.7 
L 193.46168 189.641817 
L 194.06661 190.054549 
L 194.780569 190.262843 
L 196.8 190.2 
L 197.300589 190.751341 
L 197.813942 192.068442 
L 198.37866 193.869081 
L 200.4 202.2 
L 201.149498 203.726675 
L 203.293813 207.367132 
L 205.334413 211.502104 
L 206.193779 212.594566 
L 206.775202 212.974354 
L 207 213 
L 207.397324 212.846424 
L 208.329756 211.986413 
L 209.280182 211.120701 
L 209.7 210.96 
L 210.224549 211.095544 
L 210.948181 211.685503 
L 211.574261 212.344867 
L 213.136368 214.569859 
L 213.6 214.92 
L 214.541247 215.190894 
L 215.573994 215.203816 
L 217.11998 214.987946 
L 219.6 214.2 
L 220.222773 214.378182 
L 220.8 214.8 
L 221.236396 215.286216 
L 223.230872 218.278292 
L 224.297231 219.148942 
L 225.361875 219.658592 
L 226.478186 219.902827 
L 227.04 219.9 
L 227.697253 219.698147 
L 229.038326 218.761375 
L 230.416442 217.850048 
L 231.12 217.68 
L 231.876237 217.825419 
L 233.427069 218.749443 
L 235.007173 219.709517 
L 235.8 219.9 
L 236.603647 219.797723 
L 238.255652 219.068174 
L 239.858189 218.278025 
L 240.6 218.1 
L 241.645722 218.215919 
L 243.6 218.7 
L 244.597129 218.527375 
L 246.095513 218.117773 
L 246.6 218.1 
L 247.143544 218.21925 
L 249.9 219.3 
L 250.494195 219.181351 
L 251.7 218.55 
L 252.905805 217.918649 
L 253.5 217.8 
L 254.057284 217.870478 
L 255.161106 218.339207 
L 256.255056 218.861973 
L 257.298079 219.014973 
L 259.8 218.7 
L 261.1617 219.033027 
L 263.307184 219.772998 
L 264.60622 219.917911 
L 268.368747 219.657184 
L 272.4 220.2 
L 273.604778 220.075899 
L 277.885216 219.324479 
L 280.980975 218.950602 
L 283.87144 218.861245 
L 290.597085 219.016069 
L 307.44 219 
L 307.44 219 
" clip-path="url(#ped18cb847b)" style="fill: none; stroke: #0000ff; stroke-width: 1.5; stroke-linecap: square"/>
   </g>
   <g id="patch_20">
    <path d="M 90 229.210435 
L 90 60.48 
" style="fill: none; stroke: #000000; stroke-width: 0.8; stroke-linejoin: miter; stroke-linecap: square"/>
   </g>
   <g id="patch_21">
    <path d="M 317.755102 229.210435 
L 317.755102 60.48 
" style="fill: none; stroke: #000000; stroke-width: 0.8; stroke-linejoin: miter; stroke-linecap: square"/>
   </g>
   <g id="patch_22">
    <path d="M 90 229.210435 
L 317.755102 229.210435 
" style="fill: none; stroke: #000000; stroke-width: 0.8; stroke-linejoin: miter; stroke-linecap: square"/>
   </g>
   <g id="patch_23">
    <path d="M 90 60.48 
L 317.755102 60.48 
" style="fill: none; stroke: #000000; stroke-width: 0.8; stroke-linejoin: miter; stroke-linecap: square"/>
   </g>
   <g id="legend_4">
    <g id="patch_24">
     <path d="M 265.864477 83.158125 
L 310.755102 83.158125 
Q 312.755102 83.158125 312.755102 81.158125 
L 312.755102 67.48 
Q 312.755102 65.48 310.755102 65.48 
L 265.864477 65.48 
Q 263.864477 65.48 263.864477 67.48 
L 263.864477 81.158125 
Q 263.864477 83.158125 265.864477 83.158125 
z
" style="fill: #ffffff; opacity: 0.8; stroke: #cccccc; stroke-linejoin: miter"/>
    </g>
    <g id="line2d_47">
     <path d="M 267.864477 73.578438 
L 277.864477 73.578438 
L 287.864477 73.578438 
" style="fill: none; stroke: #0000ff; stroke-width: 1.5; stroke-linecap: square"/>
    </g>
    <g id="text_54">
     <text textLength="12.891" lengthAdjust="spacingAndGlyphs" style="font-size: 10.300px; font-family: 'Liberation Sans', sans-serif; text-anchor: start" x="295.864477" y="76.8384" transform="rotate(-0 295.864477 76.8384)">BP</text>
    </g>
   </g>
  </g>
  <g id="axes_5">
   <g id="matplotlib.axis_8">
    <g id="ytick_24">
     <g id="line2d_48">
      <g>
       <use href="#m33c4ce201d" x="648" y="220.156939" style="stroke: #000000; stroke-width: 0.8"/>
      </g>
     </g>
     <g id="text_55">
      <text textLength="6.362" lengthAdjust="spacingAndGlyphs" style="font-size: 10.300px; font-family: 'Liberation Sans', sans-serif; text-anchor: start; fill: #ff0000" x="655" y="223.5962" transform="rotate(-0 655 223.5962)">0</text>
     </g>
    </g>
    <g id="ytick_25">
     <g id="line2d_49">
      <g>
       <use href="#m33c4ce201d" x="648" y="196.635257" style="stroke: #000000; stroke-width: 0.8"/>
      </g>
     </g>
     <g id="text_56">
      <text textLength="12.725" lengthAdjust="spacingAndGlyphs" style="font-size: 10.300px; font-family: 'Liberation Sans', sans-serif; text-anchor: start; fill: #ff0000" x="655" y="200.0745" transform="rotate(-0 655 200.0745)">20</text>
     </g>
    </g>
    <g id="ytick_26">
     <g id="line2d_50">
      <g>
       <use href="#m33c4ce201d" x="648" y="173.113575" style="stroke: #000000; stroke-width: 0.8"/>
      </g>
     </g>
     <g id="text_57">
      <text textLength="12.725" lengthAdjust="spacingAndGlyphs" style="font-size: 10.300px; font-family: 'Liberation Sans', sans-serif; text-anchor: start; fill: #ff0000" x="655" y="176.5528" transform="rotate(-0 655 176.5528)">40</text>
     </g>
    </g>
    <g id="ytick_27">
     <g id="line2d_51">
      <g>
       <use href="#m33c4ce201d" x="648" y="149.591893" style="stroke: #000000; stroke-width: 0.8"/>
      </g>
     </g>
     <g id="text_58">
      <text textLength="12.725" lengthAdjust="spacingAndGlyphs" style="font-size: 10.300px; font-family: 'Liberation Sans', sans-serif; text-anchor: start; fill: #ff0000" x="655" y="153.0311" transform="rotate(-0 655 153.0311)">60</text>
     </g>
    </g>
    <g id="ytick_28">
     <g id="line2d_52">
      <g>
       <use href="#m33c4ce201d" x="648" y="126.070211" style="stroke: #000000; stroke-width: 0.8"/>
      </g>
     </g>
     <g id="text_59">
      <text textLength="12.725" lengthAdjust="spacingAndGlyphs" style="font-size: 10.300px; font-family: 'Liberation Sans', sans-serif; text-anchor: start; fill: #ff0000" x="655" y="129.5094" transform="rotate(-0 655 129.5094)">80</text>
     </g>
    </g>
    <g id="ytick_29">
     <g id="line2d_53">
      <g>
       <use href="#m33c4ce201d" x="648" y="102.548529" style="stroke: #000000; stroke-width: 0.8"/>
      </g>
     </g>
     <g id="text_60">
      <text textLength="19.087" lengthAdjust="spacingAndGlyphs" style="font-size: 10.300px; font-family: 'Liberation Sans', sans-serif; text-anchor: start; fill: #ff0000" x="655" y="105.9877" transform="rotate(-0 655 105.9877)">100</text>
     </g>
    </g>
    <g id="ytick_30">
     <g id="line2d_54">
      <g>
       <use href="#m33c4ce201d" x="648" y="79.026846" style="stroke: #000000; stroke-width: 0.8"/>
      </g>
     </g>
     <g id="text_61">
      <text textLength="19.087" lengthAdjust="spacingAndGlyphs" style="font-size: 10.300px; font-family: 'Liberation Sans', sans-serif; text-anchor: start; fill: #ff0000" x="655" y="82.4661" transform="rotate(-0 655 82.4661)">120</text>
     </g>
    </g>
    <g id="text_62">
     <text textLength="50.107" lengthAdjust="spacingAndGlyphs" style="font-size: 10.300px; font-family: 'Liberation Sans', sans-serif; text-anchor: middle; fill: #ff0000" x="685.685937" y="144.845217" transform="rotate(-90 685.685937 144.845217)">Flux (e-/s)</text>
    </g>
   </g>
   <g id="line2d_55">
    <path d="M 430.56 220.08 
L 446.254234 220.126934 
L 450 220.32 
L 452.471056 220.717254 
L 457.08334 221.386292 
L 458.641366 221.32205 
L 460.2 220.92 
L 461.527423 220.365826 
L 463.697355 219.353969 
L 465.005432 218.99462 
L 468.706421 218.495899 
L 471.597436 217.412382 
L 472.539584 217.33426 
L 473.410237 217.5803 
L 476.4 218.7 
L 477.029688 218.542564 
L 477.914422 218.006617 
L 478.800664 217.278714 
L 481.49785 214.604054 
L 482.533292 213.561064 
L 483.448398 212.374558 
L 484.633175 210.334072 
L 486.410909 206.578165 
L 488.4 201.6 
L 489.906817 197.289553 
L 491.4 193.2 
L 492.935573 189.871924 
L 494.257557 187.718996 
L 495.772245 185.766711 
L 496.8 184.8 
L 497.84973 184.154565 
L 498.54995 183.930475 
L 499.249646 183.94781 
L 499.948087 184.248175 
L 501.701876 185.12319 
L 502.75603 185.512697 
L 503.457761 185.439916 
L 504.161141 185.080861 
L 505.2 184.2 
L 506.250716 182.934966 
L 507.766709 180.500284 
L 508.875314 178.272842 
L 510 175.2 
L 510.803519 172.510739 
L 512.4 166.8 
L 513.605889 163.394427 
L 514.750059 160.873295 
L 515.4 159.9 
L 516.154668 159.211026 
L 517.442983 158.201899 
L 518.118104 157.333936 
L 518.644595 156.329488 
L 519.3 154.5 
L 519.90884 151.904741 
L 520.613291 147.275404 
L 521.029705 143.289841 
L 521.4 138 
L 522.456175 128.947816 
L 523.34989 122.609778 
L 524.374566 117.310318 
L 525.6 112.8 
L 526.689642 108.852178 
L 527.017408 108.042943 
L 527.669529 107.078245 
L 528.267091 106.548505 
L 528.893906 106.242316 
L 529.499422 106.252129 
L 530.096878 106.601499 
L 531.399764 107.833182 
L 533.021992 109.925865 
L 533.4 110.1 
L 533.932953 109.953268 
L 534.442468 109.509576 
L 534.9 108.9 
L 535.236637 108.218053 
L 535.758968 106.352273 
L 538.224555 93.729888 
L 540.325104 82.230909 
L 541.408971 77.277428 
L 542.371043 73.781782 
L 543.340496 71.294057 
L 544.104 69.864 
L 544.918551 68.771559 
L 545.520293 68.302144 
L 546.220217 68.101096 
L 547.136928 68.144945 
L 547.872 68.4 
L 548.634567 69.020153 
L 549.597692 70.227981 
L 550.562176 71.919969 
L 551.362419 73.672464 
L 552.196779 75.661856 
L 552.82612 76.566738 
L 554.352 78.024 
L 555.816 77.496 
L 556.459749 77.549637 
L 557.064 77.808 
L 557.50611 78.241127 
L 558.584834 79.917937 
L 559.992 82.416 
L 561.760542 85.850936 
L 562.7007 88.279822 
L 563.76 91.824 
L 564.580329 95.147621 
L 567.183489 107.025341 
L 568.031492 111.686554 
L 570.390612 127.288488 
L 572.956762 143.115604 
L 579.804081 182.690355 
L 582.531701 194.444067 
L 583.2 196.8 
L 584.623165 200.711805 
L 589.2 211.8 
L 590.062926 212.844057 
L 591 213.6 
L 592.15895 214.195184 
L 593.4 214.8 
L 594.408734 215.589457 
L 595.928199 216.892943 
L 596.994938 217.504844 
L 597.865585 217.77039 
L 598.72438 217.742315 
L 601.8 216.9 
L 602.474389 217.010018 
L 603.827951 217.544316 
L 605.245556 218.172556 
L 606.930748 218.567762 
L 609.956905 218.823582 
L 613.000698 219.141064 
L 618 219.9 
L 620.845504 220.043547 
L 630.492446 220.100432 
L 637.68 220.08 
L 637.68 220.08 
" clip-path="url(#p2e5e7b1a41)" style="fill: none; stroke: #ff0000; stroke-width: 1.5; stroke-linecap: square"/>
   </g>
   <g id="patch_25">
    <path d="M 420.244898 229.210435 
L 420.244898 60.48 
" style="fill: none; stroke: #000000; stroke-width: 0.8; stroke-linejoin: miter; stroke-linecap: square"/>
   </g>
   <g id="patch_26">
    <path d="M 648 229.210435 
L 648 60.48 
" style="fill: none; stroke: #000000; stroke-width: 0.8; stroke-linejoin: miter; stroke-linecap: square"/>
   </g>
   <g id="patch_27">
    <path d="M 420.244898 229.210435 
L 648 229.210435 
" style="fill: none; stroke: #000000; stroke-width: 0.8; stroke-linejoin: miter; stroke-linecap: square"/>
   </g>
   <g id="patch_28">
    <path d="M 420.244898 60.48 
L 648 60.48 
" style="fill: none; stroke: #000000; stroke-width: 0.8; stroke-linejoin: miter; stroke-linecap: square"/>
   </g>
   <g id="legend_5">
    <g id="patch_29">
     <path d="M 596.021875 83.158125 
L 641 83.158125 
Q 643 83.158125 643 81.158125 
L 643 67.48 
Q 643 65.48 641 65.48 
L 596.021875 65.48 
Q 594.021875 65.48 594.021875 67.48 
L 594.021875 81.158125 
Q 594.021875 83.158125 596.021875 83.158125 
z
" style="fill: #ffffff; opacity: 0.8; stroke: #cccccc; stroke-linejoin: miter"/>
    </g>
    <g id="line2d_56">
     <path d="M 598.021875 73.578438 
L 608.021875 73.578438 
L 618.021875 73.578438 
" style="fill: none; stroke: #ff0000; stroke-width: 1.5; stroke-linecap: square"/>
    </g>
    <g id="text_63">
     <text textLength="12.979" lengthAdjust="spacingAndGlyphs" style="font-size: 10.300px; font-family: 'Liberation Sans', sans-serif; text-anchor: start" x="626.021875" y="76.8384" transform="rotate(-0 626.021875 76.8384)">RP</text>
    </g>
   </g>
  </g>
  <g id="axes_6">
   <g id="matplotlib.axis_9">
    <g id="ytick_31">
     <g id="line2d_57">
      <g>
       <use href="#m33c4ce201d" x="648" y="433.53742" style="stroke: #000000; stroke-width: 0.8"/>
      </g>
     </g>
     <g id="text_64">
      <text textLength="24.282" lengthAdjust="spacingAndGlyphs" style="font-size: 10.300px; font-family: 'Liberation Sans', sans-serif; text-anchor: start" x="655" y="436.9766" transform="rotate(-0 655 436.9766)">−1.0</text>
     </g>
    </g>
    <g id="ytick_32">
     <g id="line2d_58">
      <g>
       <use href="#m33c4ce201d" x="648" y="402.447644" style="stroke: #000000; stroke-width: 0.8"/>
      </g>
     </g>
     <g id="text_65">
      <text textLength="24.282" lengthAdjust="spacingAndGlyphs" style="font-size: 10.300px; font-family: 'Liberation Sans', sans-serif; text-anchor: start" x="655" y="405.8869" transform="rotate(-0 655 405.8869)">−0.5</text>
     </g>
    </g>
    <g id="ytick_33">
     <g id="line2d_59">
      <g>
       <use href="#m33c4ce201d" x="648" y="371.357867" style="stroke: #000000; stroke-width: 0.8"/>
      </g>
     </g>
     <g id="text_66">
      <text textLength="15.903" lengthAdjust="spacingAndGlyphs" style="font-size: 10.300px; font-family: 'Liberation Sans', sans-serif; text-anchor: start" x="655" y="374.7971" transform="rotate(-0 655 374.7971)">0.0</text>
     </g>
    </g>
    <g id="ytick_34">
     <g id="line2d_60">
      <g>
       <use href="#m33c4ce201d" x="648" y="340.268091" style="stroke: #000000; stroke-width: 0.8"/>
      </g>
     </g>
     <g id="text_67">
      <text textLength="15.903" lengthAdjust="spacingAndGlyphs" style="font-size: 10.300px; font-family: 'Liberation Sans', sans-serif; text-anchor: start" x="655" y="343.7073" transform="rotate(-0 655 343.7073)">0.5</text>
     </g>
    </g>
    <g id="ytick_35">
     <g id="line2d_61">
      <g>
       <use href="#m33c4ce201d" x="648" y="309.178314" style="stroke: #000000; stroke-width: 0.8"/>
      </g>
     </g>
     <g id="text_68">
      <text textLength="15.903" lengthAdjust="spacingAndGlyphs" style="font-size: 10.300px; font-family: 'Liberation Sans', sans-serif; text-anchor: start" x="655" y="312.6175" transform="rotate(-0 655 312.6175)">1.0</text>
     </g>
    </g>
    <g id="text_69">
     <!-- Flux (W * m$^2$ * nm$^{-1}$) -->
     <g transform="translate(691.703125 417.094783) rotate(-90)">
      <text>
       <tspan textLength="5.752" lengthAdjust="spacingAndGlyphs" x="0" y="-0.976562" style="font-size: 10.300px; font-family: 'Liberation Sans', sans-serif">F</tspan>
       <tspan textLength="2.778" lengthAdjust="spacingAndGlyphs" x="5.751953" y="-0.976562" style="font-size: 10.300px; font-family: 'Liberation Sans', sans-serif">l</tspan>
       <tspan textLength="6.338" lengthAdjust="spacingAndGlyphs" x="8.530273" y="-0.976562" style="font-size: 10.300px; font-family: 'Liberation Sans', sans-serif">u</tspan>
       <tspan textLength="5.918" lengthAdjust="spacingAndGlyphs" x="14.868164" y="-0.976562" style="font-size: 10.300px; font-family: 'Liberation Sans', sans-serif">x</tspan>
       <tspan x="20.786133" y="-0.976562" style="font-size: 10.300px; font-family: 'Liberation Sans', sans-serif"> </tspan>
       <tspan textLength="3.901" lengthAdjust="spacingAndGlyphs" x="23.964844" y="-0.976562" style="font-size: 10.300px; font-family: 'Liberation Sans', sans-serif">(</tspan>
       <tspan textLength="9.888" lengthAdjust="spacingAndGlyphs" x="27.866211" y="-0.976562" style="font-size: 10.300px; font-family: 'Liberation Sans', sans-serif">W</tspan>
       <tspan x="37.753906" y="-0.976562" style="font-size: 10.300px; font-family: 'Liberation Sans', sans-serif"> </tspan>
       <tspan textLength="5.000" lengthAdjust="spacingAndGlyphs" x="40.932617" y="-0.976562" style="font-size: 10.300px; font-family: 'Liberation Sans', sans-serif">*</tspan>
       <tspan x="45.932617" y="-0.976562" style="font-size: 10.300px; font-family: 'Liberation Sans', sans-serif"> </tspan>
       <tspan textLength="9.741" lengthAdjust="spacingAndGlyphs" x="49.111328" y="-0.976562" style="font-size: 10.300px; font-family: 'Liberation Sans', sans-serif">m</tspan>
       <tspan x="63.675293" y="-0.976562" style="font-size: 10.300px; font-family: 'Liberation Sans', sans-serif"> </tspan>
       <tspan textLength="5.000" lengthAdjust="spacingAndGlyphs" x="66.854004" y="-0.976562" style="font-size: 10.300px; font-family: 'Liberation Sans', sans-serif">*</tspan>
       <tspan x="71.854004" y="-0.976562" style="font-size: 10.300px; font-family: 'Liberation Sans', sans-serif"> </tspan>
       <tspan textLength="6.338" lengthAdjust="spacingAndGlyphs" x="75.032715" y="-0.976562" style="font-size: 10.300px; font-family: 'Liberation Sans', sans-serif">n</tspan>
       <tspan textLength="9.741" lengthAdjust="spacingAndGlyphs" x="81.370605" y="-0.976562" style="font-size: 10.300px; font-family: 'Liberation Sans', sans-serif">m</tspan>
       <tspan textLength="3.901" lengthAdjust="spacingAndGlyphs" x="101.799805" y="-0.976562" style="font-size: 10.300px; font-family: 'Liberation Sans', sans-serif">)</tspan>
       <tspan textLength="4.454" lengthAdjust="spacingAndGlyphs" x="58.948242" y="-4.804688" style="font-size: 7.210px; font-family: 'Liberation Sans', sans-serif">2</tspan>
       <tspan textLength="5.865" lengthAdjust="spacingAndGlyphs" x="91.20752" y="-4.804688" style="font-size: 7.210px; font-family: 'Liberation Sans', sans-serif">−</tspan>
       <tspan textLength="4.454" lengthAdjust="spacingAndGlyphs" x="97.072754" y="-4.804688" style="font-size: 7.210px; font-family: 'Liberation Sans', sans-serif">1</tspan>
      </text>
     </g>
    </g>
    <g id="text_70">
     <text textLength="33.618" lengthAdjust="spacingAndGlyphs" style="font-size: 10.300px; font-family: 'Liberation Sans', sans-serif; text-anchor: end" x="648" y="276.829565" transform="rotate(-0 648 276.829565)">1e−17</text>
    </g>
   </g>
   <g id="line2d_62">
    <path d="M 115.368 287.52 
L 115.840894 340.083124 
L 116.483705 368.30678 
L 117.037333 381.015591 
L 117.383701 384.15179 
L 117.432 384.48 
L 118.104 380.448 
L 118.528361 375.784478 
L 119.822418 359.054125 
L 120.226271 357.810053 
L 120.528 357.48 
L 120.767004 357.747292 
L 121.224 359.088 
L 121.51646 360.461273 
L 122.328318 366.471005 
L 123.729272 376.834462 
L 123.936 377.16 
L 124.117628 377.017874 
L 124.512 376.176 
L 124.865322 374.668951 
L 126.086899 367.635394 
L 126.578243 366.201326 
L 126.984151 365.553218 
L 127.248 365.4 
L 127.515395 365.640029 
L 128.016 366.84 
L 128.418828 368.302089 
L 129.498144 372.81626 
L 129.978342 374.148202 
L 130.152 374.28 
L 130.306403 374.219499 
L 130.639461 373.752471 
L 131.112 372.672 
L 131.4751 371.201676 
L 132.096 367.824 
L 132.770368 365.696533 
L 133.152 365.232 
L 133.324338 365.290914 
L 133.696379 365.761664 
L 134.232 366.84 
L 134.659125 368.125429 
L 136.169907 373.828227 
L 136.654217 374.674334 
L 137.14138 375.153665 
L 137.531837 375.263575 
L 138.953297 375.064755 
L 140.232 375.576 
L 140.649472 375.378825 
L 141.201385 374.79359 
L 141.533862 374.261871 
L 141.926412 373.141875 
L 142.824 369.528 
L 143.926923 365.285707 
L 144.432993 364.198721 
L 144.72 363.936 
L 144.943795 364.050447 
L 145.392 364.704 
L 145.656516 365.424578 
L 146.295342 368.364448 
L 148.465786 378.969602 
L 148.759001 379.775225 
L 149.037621 379.893986 
L 149.293453 379.625764 
L 149.664 378.96 
L 150.00226 377.880744 
L 150.981664 373.726776 
L 151.464 372.528 
L 152.003506 371.889159 
L 152.28 371.784 
L 152.560392 371.938305 
L 153.096 372.696 
L 153.54838 373.782432 
L 154.008 374.928 
L 154.689435 376.075266 
L 155.04 376.32 
L 155.354744 376.156114 
L 155.814194 375.483873 
L 156.168606 374.658598 
L 156.669202 372.369809 
L 157.679027 367.469602 
L 158.448404 364.450064 
L 158.928 363.288 
L 159.415674 362.766924 
L 159.672 362.688 
L 159.969978 362.835906 
L 160.56 363.576 
L 161.105786 364.667636 
L 162.411401 368.24957 
L 163.105663 369.857306 
L 163.704 370.752 
L 164.19847 371.036427 
L 164.442523 371.008142 
L 164.882561 370.716138 
L 165.676006 369.885296 
L 166.704 368.664 
L 167.490188 368.13755 
L 167.88 368.064 
L 168.283175 368.215384 
L 168.879537 368.74188 
L 169.373709 369.322121 
L 170.88 371.64 
L 171.695899 372.364861 
L 172.249477 372.660729 
L 172.748121 372.642668 
L 173.204363 372.335294 
L 174.124843 371.303975 
L 175.544568 368.986802 
L 176.4 367.752 
L 177.362192 366.776641 
L 177.9 366.6 
L 178.310086 366.779901 
L 179.185475 367.761414 
L 180.6 369.6 
L 182.782469 372.050273 
L 183.344522 372.449044 
L 183.9 372.6 
L 184.444189 372.434102 
L 184.981405 372.00246 
L 187.2 369.6 
L 188.888669 368.492011 
L 190.117893 367.954781 
L 190.8 367.8 
L 191.803166 367.794587 
L 194.128824 368.296167 
L 196.428862 368.83671 
L 197.9637 368.8013 
L 198.925969 368.514162 
L 200.4 367.8 
L 201.360469 367.190775 
L 204.705012 364.555763 
L 205.767354 363.899544 
L 206.7 363.6 
L 207.195385 363.620899 
L 208.05756 363.967941 
L 211.030679 365.905719 
L 212.855811 367.19263 
L 213.817736 367.672553 
L 214.8 367.92 
L 215.924941 367.829445 
L 217.104696 367.429297 
L 220.786917 365.764908 
L 222 365.52 
L 223.146424 365.579878 
L 225.422639 366.196634 
L 227.723175 366.82527 
L 228.9 366.9 
L 230.215507 366.682101 
L 232.904797 365.660659 
L 234.267324 365.101865 
L 235.634268 364.674187 
L 237 364.5 
L 238.423846 364.673082 
L 239.894576 365.116211 
L 244.164904 366.721283 
L 245.4 366.9 
L 246.866225 366.725672 
L 248.172315 366.284678 
L 250.797815 365.134492 
L 256.195975 362.155315 
L 257.4 361.8 
L 258.857214 361.78229 
L 260.883206 362.244053 
L 263.27653 362.831005 
L 265.024639 363.323008 
L 267 363.6 
L 268.653214 363.5178 
L 272.432481 362.820371 
L 276.449542 362.069279 
L 278.4 361.92 
L 280.280608 362.002249 
L 284.000215 362.575754 
L 287.808521 363.1797 
L 289.8 363.3 
L 292.261664 363.207894 
L 297.610485 362.580013 
L 302.683319 361.925454 
L 305.913448 361.81851 
L 308.722601 362.085628 
L 313.71619 362.568361 
L 316.8 362.7 
L 319.248692 362.527442 
L 321.6 362.1 
L 323.237232 361.585676 
L 327.033846 360.027728 
L 329.417393 358.956754 
L 330.509143 358.751791 
L 333 358.8 
L 333.596547 358.501207 
L 334.760919 357.523328 
L 335.96003 356.480269 
L 336.6 356.1 
L 337.921292 355.667934 
L 344.916733 354.407604 
L 346.8 354.3 
L 348.333135 354.550967 
L 349.279929 354.925585 
L 349.8 355.2 
L 350.710153 355.912845 
L 354.756023 360.118163 
L 355.8 360.6 
L 356.68391 360.597667 
L 357.585192 360.310008 
L 360.311248 358.982021 
L 361.2 358.8 
L 362.033641 358.876992 
L 363.725079 359.4301 
L 365.305336 359.956452 
L 366.451536 359.921557 
L 367.237645 359.614553 
L 368.4 358.8 
L 369.131989 358.052945 
L 372.337873 353.779979 
L 373.2 353.1 
L 373.87152 352.819186 
L 375.27053 352.619399 
L 377.4 352.5 
L 379.582861 351.899737 
L 380.975516 351.597109 
L 382.040523 351.684132 
L 382.815846 351.996204 
L 384 352.8 
L 384.825731 353.602181 
L 388.58252 358.089637 
L 389.4 358.5 
L 389.836779 358.488034 
L 390.640663 358.112114 
L 391.408402 357.414315 
L 391.8 357 
L 392.511165 356.035252 
L 393.945556 353.266451 
L 395.339453 350.349693 
L 396.779543 348.060191 
L 397.937771 346.65829 
L 399.010667 345.688839 
L 402.6 343.2 
L 403.505467 342.254714 
L 407.17289 337.779518 
L 408 337.2 
L 408.798437 336.984874 
L 409.554181 337.026289 
L 411.196151 337.441941 
L 413.038226 338.279399 
L 415.8 339.6 
L 417.623976 340.120531 
L 418.792242 340.496627 
L 419.4 340.8 
L 420.28073 341.41117 
L 422.121355 343.091823 
L 424.8 345.6 
L 427.120228 347.579097 
L 427.728911 347.876258 
L 428.4 348 
L 429.462475 347.793797 
L 430.644496 347.20739 
L 433.173567 345.44202 
L 435.6 343.8 
L 439.23398 342.008519 
L 441.909043 340.569341 
L 446.4 337.8 
L 449.517409 336.311598 
L 451.2 335.7 
L 453.619817 335.049904 
L 457.401896 334.327104 
L 459.6 334.122118 
L 460.8 334.2 
L 462.942105 334.674937 
L 465.508315 335.36202 
L 466.794638 335.609725 
L 468 335.7 
L 469.063278 335.598452 
L 471.201333 335.046104 
L 473.160425 334.461663 
L 474.831215 334.262861 
L 475.940463 334.370549 
L 476.4 334.5 
L 477.589423 335.136717 
L 482.210131 338.679842 
L 483.845302 339.570963 
L 485.4 339.9 
L 486.969862 339.489172 
L 488.608271 338.499973 
L 491.801253 335.814569 
L 493.21109 334.632417 
L 494.855149 333.727438 
L 495.951398 333.484503 
L 496.8 333.48 
L 497.816426 333.631456 
L 504 335.256 
L 505.042456 335.157114 
L 506.832 334.608 
L 508.73472 333.888964 
L 510.415331 333.062174 
L 511.896 332.256 
L 513.283898 331.807709 
L 514.534742 331.637531 
L 516.563372 331.734146 
L 517.536 331.872 
L 519.216106 332.396544 
L 520.92 332.904 
L 522.346777 333.028758 
L 523.574998 332.921428 
L 525.423004 332.418756 
L 527.648356 331.565345 
L 530.150467 330.499262 
L 533.008288 329.497735 
L 534.288 329.424 
L 535.654785 329.548704 
L 536.75191 329.849559 
L 538.8 330.84 
L 542.544811 332.53361 
L 543.964903 332.999322 
L 545.378033 333.18006 
L 547.2 333.096 
L 548.744816 332.802495 
L 549.974464 332.395876 
L 551.904 331.68 
L 553.817041 331.306756 
L 555.351377 330.925354 
L 556.608 330.552 
L 558.279242 330.474567 
L 561.20247 330.645147 
L 562.248 330.84 
L 562.999581 331.247116 
L 563.617894 331.459073 
L 565.158419 331.634891 
L 565.632 331.872 
L 565.989378 331.783461 
L 566.376 331.68 
L 567.030447 331.892657 
L 567.696 332.064 
L 568.021206 331.901818 
L 568.632 331.512 
L 569.000738 331.681645 
L 569.571961 332.115846 
L 569.949011 332.101638 
L 570.888 331.416 
L 571.261805 331.582266 
L 571.826761 332.020469 
L 572.016 332.064 
L 572.426069 331.838485 
L 573.041279 331.284259 
L 573.420255 331.27951 
L 574.296 331.968 
L 574.668408 331.777621 
L 575.235439 331.279503 
L 575.610739 331.272148 
L 576.732431 331.986718 
L 577.68 331.872 
L 578.266904 332.111864 
L 584.808 336.12 
L 587.366711 337.966872 
L 588.241577 338.809809 
L 590.1 341.04 
L 591.208814 341.74826 
L 591.971948 342.036673 
L 592.676286 342.096813 
L 593.33639 341.969339 
L 594.3 341.496 
L 595.144769 340.740287 
L 596.341079 339.177829 
L 597.373286 337.488834 
L 598.5 335.04 
L 599.303736 332.80673 
L 601.110451 326.724413 
L 602.029683 322.816277 
L 603.141196 316.955019 
L 603.870342 313.123858 
L 605.104422 307.563511 
L 606.145573 301.519228 
L 607.574195 295.963495 
L 608.120331 293.3028 
L 608.726974 291.787698 
L 609.953263 289.862527 
L 610.8 288.6 
L 612.648 290.616 
L 612.916243 291.482117 
L 613.723581 296.864255 
L 614.516486 302.005247 
L 615.660424 311.679197 
L 616.316436 318.336493 
L 618.369422 346.001433 
L 618.851581 355.578184 
L 619.690472 373.654091 
L 620.225699 382.968413 
L 621.328494 409.410018 
L 622.56 440.88 
L 622.56 440.88 
" clip-path="url(#pbcfeac04f6)" style="fill: none; stroke: #000000; stroke-width: 1.5; stroke-linecap: square"/>
   </g>
   <g id="patch_30">
    <path d="M 90 448.56 
L 90 279.829565 
" style="fill: none; stroke: #000000; stroke-width: 0.8; stroke-linejoin: miter; stroke-linecap: square"/>
   </g>
   <g id="patch_31">
    <path d="M 648 448.56 
L 648 279.829565 
" style="fill: none; stroke: #000000; stroke-width: 0.8; stroke-linejoin: miter; stroke-linecap: square"/>
   </g>
   <g id="patch_32">
    <path d="M 90 448.56 
L 648 448.56 
" style="fill: none; stroke: #000000; stroke-width: 0.8; stroke-linejoin: miter; stroke-linecap: square"/>
   </g>
   <g id="patch_33">
    <path d="M 90 279.829565 
L 648 279.829565 
" style="fill: none; stroke: #000000; stroke-width: 0.8; stroke-linejoin: miter; stroke-linecap: square"/>
   </g>
   <g id="legend_6">
    <g id="patch_34">
     <path d="M 97 443.56 
L 149.785937 443.56 
Q 151.785937 443.56 151.785937 441.56 
L 151.785937 427.881875 
Q 151.785937 425.881875 149.785937 425.881875 
L 97 425.881875 
Q 95 425.881875 95 427.881875 
L 95 441.56 
Q 95 443.56 97 443.56 
z
" style="fill: #ffffff; opacity: 0.8; stroke: #cccccc; stroke-linejoin: miter"/>
    </g>
    <g id="line2d_63">
     <path d="M 99 433.980313 
L 109 433.980313 
L 119 433.980313 
" style="fill: none; stroke: #000000; stroke-width: 1.5; stroke-linecap: square"/>
    </g>
    <g id="text_71">
     <text textLength="20.786" lengthAdjust="spacingAndGlyphs" style="font-size: 10.300px; font-family: 'Liberation Sans', sans-serif; text-anchor: start" x="127" y="437.2403" transform="rotate(-0 127 437.2403)">Flux</text>
    </g>
   </g>
  </g>
 </g>
 <defs>
  <clipPath id="ped18cb847b">
   <rect x="90" y="60.48" width="227.755102" height="168.730435"/>
  </clipPath>
  <clipPath id="p2e5e7b1a41">
   <rect x="420.244898" y="60.48" width="227.755102" height="168.730435"/>
  </clipPath>
  <clipPath id="pbcfeac04f6">
   <rect x="90" y="279.829565" width="558" height="168.730435"/>
  </clipPath>
 </defs>
</svg>

</body></html>
